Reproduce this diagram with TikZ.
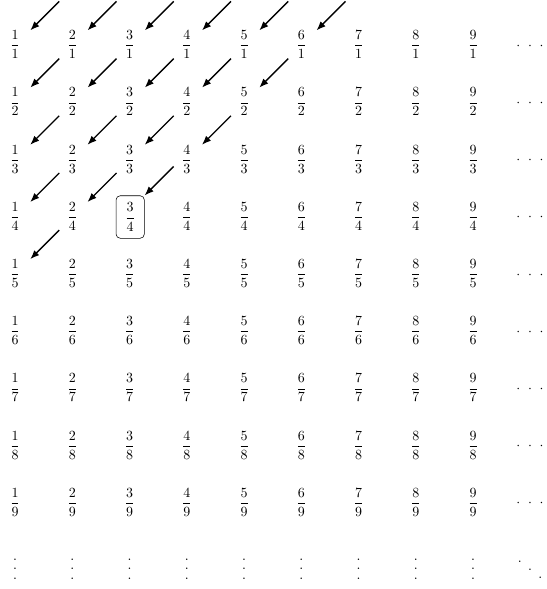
\documentclass[tikz,border=0pt]{standalone}
\usepackage{amsmath}
\usetikzlibrary{arrows.meta}
\newcommand\mycdots{\ensuremath{{\cdot}\mkern10mu{\cdot}\mkern10mu{\cdot}}}
\newcommand\myvdots{\vbox{\offinterlineskip\hbox{.}\kern6pt\hbox{.}\kern6pt\hbox{.}}}
\newcommand\myddots{\hbox{\raise11.4pt\hbox{.}\kern4.57pt\raise5.7pt\hbox{.}\kern4.57pt\hbox{.}}}
\begin{document}
\begin{tikzpicture}[x=0.7143pt,y=-0.7143pt,
  frac/.style={inner sep=0pt,minimum width=21.4pt,minimum height=20pt},
  boxed/.style={draw,rounded corners=3pt,inner sep=0pt,minimum width=20.2pt,minimum height=30.4pt,xshift=0.5pt,yshift=-0.5pt},
  dotsnode/.style={inner sep=0pt,anchor=base},
  arr/.style={{Latex[length=6.5pt,width=5pt]}-,line width=0.95pt}]
\useasboundingbox (0,0) rectangle (546,589);
\foreach \i in {1,...,9}{
  \foreach \j in {1,...,9}{
    \ifnum\i\j=34 \def\st{boxed}\else\def\st{frac}\fi
    \node[\st] (f-\i-\j) at ({15+57.25*(\i-1)},{44.7+57.2*(\j-1)}) {$\dfrac{\i}{\j}$};
  }
  \node[dotsnode] (v-\i) at ({15+57.25*(\i-1)},579.8) {\myvdots};
}
\foreach \j in {1,...,9}{
  \node[dotsnode] (c-\j) at (530,{49.2+57.2*(\j-1)}) {\mycdots};
}
\node[dotsnode] (d) at (530,578.8) {\myddots};
\foreach \i/\j in {1/1,2/1,3/1,4/1,5/1,6/1,
                   1/2,2/2,3/2,4/2,5/2,
                   1/3,2/3,3/3,4/3,
                   1/4,2/4,3/4,
                   1/5}{
  \draw[arr] (f-\i-\j.north east) -- ++(29,-29);
}
\end{tikzpicture}
\end{document}
